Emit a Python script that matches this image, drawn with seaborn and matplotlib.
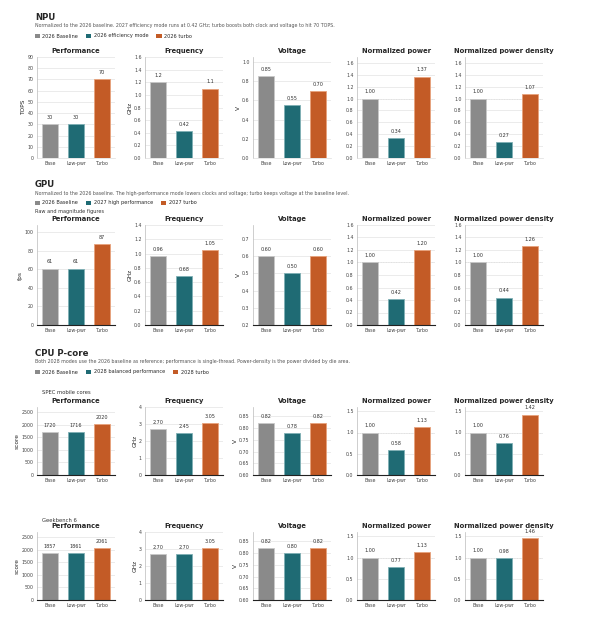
import numpy as np
import pandas as pd
import matplotlib.pyplot as plt
import seaborn as sns
from matplotlib.patches import Patch

modes = ['Base', 'Low-pwr', 'Turbo']
colors = ['#8a8a8a', '#1f6b74', '#c35b26']
edge_colors = ['#c8c8c8', '#7fb0b5', '#e8a27c']
panel_titles = ['Performance', 'Frequency', 'Voltage', 'Normalized power', 'Normalized power density']

# NPU
npu_legend = ['2026 Baseline', '2026 efficiency mode', '2026 turbo']
npu_perf = [30, 30, 70]
npu_freq = [1.2, 0.42, 1.1]
npu_volt = [0.85, 0.55, 0.70]
npu_power = [1.00, 0.34, 1.37]
npu_density = [1.00, 0.27, 1.07]

# GPU
gpu_legend = ['2026 Baseline', '2027 high performance', '2027 turbo']
gpu_perf = [61, 61, 87]
gpu_freq = [0.96, 0.68, 1.05]
gpu_volt = [0.60, 0.50, 0.60]
gpu_power = [1.00, 0.42, 1.20]
gpu_density = [1.00, 0.44, 1.26]

# CPU P-core
cpu_legend = ['2026 Baseline', '2028 balanced performance', '2028 turbo']
cpu1_perf = [1720, 1716, 2020]
cpu1_freq = [2.70, 2.45, 3.05]
cpu1_volt = [0.82, 0.78, 0.82]
cpu1_power = [1.00, 0.58, 1.13]
cpu1_density = [1.00, 0.76, 1.42]

cpu2_perf = [1857, 1861, 2061]
cpu2_freq = [2.70, 2.70, 3.05]
cpu2_volt = [0.82, 0.80, 0.82]
cpu2_power = [1.00, 0.77, 1.13]
cpu2_density = [1.00, 0.98, 1.46]

sns.set_theme(style="white")
plt.rcParams['font.family'] = ['DejaVu Sans']

W, H = 600, 617
fig = plt.figure(figsize=(6, 6.17), dpi=100)


def rect(x, y, w, h):
    return [x / W, 1 - (y + h) / H, w / W, h / H]


lefts = [37, 145, 253, 357, 465]
width = 78


def panel(ax, values, title, ylabel, ylim, yticks, fmt, tickfmt, ref=False, dark_bottom=True):
    df = pd.DataFrame({'mode': modes, 'value': values})
    sns.barplot(data=df, x='mode', y='value', hue='mode', palette=colors,
                width=0.6, legend=False, ax=ax, saturation=1)
    for i, cont in enumerate(ax.containers):
        for bar in cont:
            bar.set_edgecolor(edge_colors[i])
            bar.set_linewidth(0.6)
        ax.bar_label(cont, labels=[fmt.format(values[i])], fontsize=3.5, padding=3, color='#333333')
    ax.set_ylim(*ylim)
    ax.set_yticks(yticks)
    ax.set_yticklabels([tickfmt.format(t) for t in yticks])
    ax.yaxis.grid(True, color='#e8e8e8', linewidth=0.6)
    ax.set_axisbelow(True)
    if ref:
        ax.axhline(1.0, color='#bbbbbb', linestyle=':', linewidth=0.7, zorder=0.5)
    ax.set_title(title, fontsize=4.9, fontweight='semibold', pad=3)
    ax.set_xlabel('')
    ax.set_ylabel(ylabel, fontsize=4.2, labelpad=1)
    ax.tick_params(axis='both', labelsize=3.4, length=1.5, width=0.4, pad=1, colors='#444444')
    sns.despine(ax=ax)
    ax.spines['left'].set_color('#bbbbbb')
    ax.spines['left'].set_linewidth(0.5)
    if dark_bottom:
        ax.spines['bottom'].set_color('#222222')
        ax.spines['bottom'].set_linewidth(0.8)
    else:
        ax.spines['bottom'].set_color('#dddddd')
        ax.spines['bottom'].set_linewidth(0.5)


def row(top, h, series, specs, dark_bottom=True):
    for k in range(5):
        ax = fig.add_axes(rect(lefts[k], top, width, h))
        ylabel, ylim, yticks, fmt, tickfmt, ref = specs[k]
        panel(ax, series[k], panel_titles[k], ylabel, ylim, yticks, fmt, tickfmt, ref, dark_bottom)


def section(title, subtitle, legend_labels, y_title, note=None, y_note=None):
    fig.text(35 / W, 1 - y_title / H, title, fontsize=6.2, fontweight='bold', va='center', ha='left')
    fig.text(35 / W, 1 - (y_title + 9) / H, subtitle, fontsize=3.4, color='#555555', va='center', ha='left')
    handles = [Patch(facecolor=c, edgecolor='none') for c in colors]
    fig.legend(handles, legend_labels, loc='center left', ncol=3, frameon=False,
               bbox_to_anchor=(30 / W, 1 - (y_title + 19) / H), fontsize=3.6,
               handlelength=1.1, handleheight=0.9, columnspacing=1.5, handletextpad=0.5)
    if note:
        fig.text(35 / W, 1 - y_note / H, note, fontsize=3.6, color='#333333', va='center', ha='left')


# NPU section
section('NPU', 'Normalized to the 2026 baseline. 2027 efficiency mode runs at 0.42 GHz; turbo boosts both clock and voltage to hit 70 TOPS.',
        npu_legend, 17)
npu_specs = [
    ('TOPS', (0, 90), np.arange(0, 91, 10), '{:.0f}', '{:.0f}', False),
    ('GHz', (0, 1.6), np.arange(0, 1.61, 0.2), '{:.2g}', '{:.1f}', False),
    ('V', (0, 1.05), np.arange(0, 1.01, 0.2), '{:.2f}', '{:.1f}', False),
    ('', (0, 1.7), np.arange(0, 1.61, 0.2), '{:.2f}', '{:.1f}', True),
    ('', (0, 1.7), np.arange(0, 1.61, 0.2), '{:.2f}', '{:.1f}', True),
]
row(57, 101, [npu_perf, npu_freq, npu_volt, npu_power, npu_density], npu_specs, dark_bottom=False)

# GPU section
section('GPU', 'Normalized to the 2026 baseline. The high-performance mode lowers clocks and voltage; turbo keeps voltage at the baseline level.',
        gpu_legend, 184, note='Raw and magnitude figures', y_note=211)
gpu_specs = [
    ('fps', (0, 108), np.arange(0, 101, 20), '{:.0f}', '{:.0f}', False),
    ('GHz', (0, 1.4), np.arange(0, 1.41, 0.2), '{:.2f}', '{:.1f}', False),
    ('V', (0.2, 0.78), np.arange(0.2, 0.71, 0.1), '{:.2f}', '{:.1f}', False),
    ('', (0, 1.6), np.arange(0, 1.61, 0.2), '{:.2f}', '{:.1f}', True),
    ('', (0, 1.6), np.arange(0, 1.61, 0.2), '{:.2f}', '{:.1f}', True),
]
row(225, 100, [gpu_perf, gpu_freq, gpu_volt, gpu_power, gpu_density], gpu_specs)

# CPU P-core section
section('CPU P-core', 'Both 2028 modes use the 2026 baseline as reference; performance is single-thread. Power-density is the power divided by die area.',
        cpu_legend, 353)
fig.text(42 / W, 1 - 393 / H, 'SPEC mobile cores', fontsize=3.8, color='#333333', va='center', ha='left')
fig.text(42 / W, 1 - 520 / H, 'Geekbench 6', fontsize=3.8, color='#333333', va='center', ha='left')
cpu_specs = [
    ('score', (0, 2700), np.arange(0, 2501, 500), '{:.0f}', '{:.0f}', False),
    ('GHz', (0, 4), np.arange(0, 4.1, 1), '{:.2f}', '{:.0f}', False),
    ('V', (0.6, 0.89), np.arange(0.6, 0.86, 0.05), '{:.2f}', '{:.2f}', False),
    ('', (0, 1.6), np.arange(0, 1.51, 0.5), '{:.2f}', '{:.1f}', True),
    ('', (0, 1.6), np.arange(0, 1.51, 0.5), '{:.2f}', '{:.1f}', True),
]
row(407, 68, [cpu1_perf, cpu1_freq, cpu1_volt, cpu1_power, cpu1_density], cpu_specs)
row(532, 68, [cpu2_perf, cpu2_freq, cpu2_volt, cpu2_power, cpu2_density], cpu_specs)

fig.savefig('out.png', dpi=100)
plt.close(fig)
